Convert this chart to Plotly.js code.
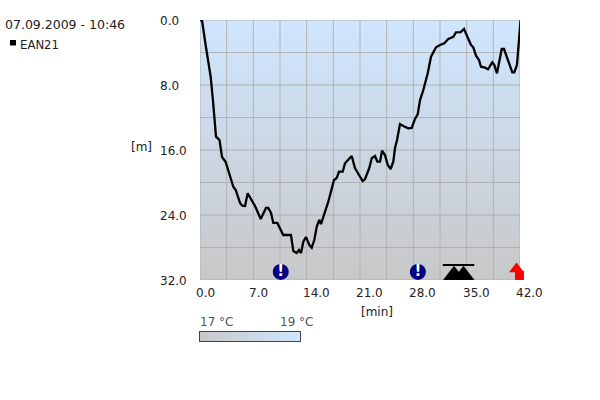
<!DOCTYPE html>
<html>
<head>
<meta charset="utf-8">
<script src="https://cdn.plot.ly/plotly-3.0.1.min.js"></script>
<style>html,body{margin:0;padding:0;background:#fff}#c{width:600px;height:400px}</style>
</head>
<body>
<div id="c"></div>
<script>
const diveDate = '07.09.2009 - 10:46';
const seriesName = 'EAN21';
const timeMin = [0,0.26,0.72,1.40,1.71,2.10,2.56,2.89,3.37,3.94,4.37,4.69,5.25,5.55,5.91,6.26,6.79,7.22,7.97,8.66,8.96,9.32,9.62,10.15,10.93,11.94,12.25,12.69,12.99,13.26,13.56,13.91,14.35,14.66,15.0,15.32,15.66,15.88,16.84,17.59,17.94,18.24,18.73,19.03,19.91,20.34,20.87,21.35,21.66,22.22,22.54,22.97,23.27,23.63,23.89,24.28,24.64,25.03,25.37,25.59,25.86,26.25,26.68,27.34,27.79,28.22,28.57,28.88,29.31,29.89,30.32,30.98,31.5,32.06,32.59,33.25,33.6,34.22,34.65,35.14,35.57,35.87,36.23,36.62,36.88,37.41,37.8,38.36,38.63,38.98,39.6,39.9,40.33,40.99,41.25,41.6,42.08];
const depthM = [0,0,2.95,6.98,10.0,14.36,14.77,16.86,17.48,19.08,20.52,20.92,22.52,22.86,22.89,21.33,22.28,22.89,24.49,23.14,23.14,23.75,24.98,24.98,26.46,26.46,28.43,28.68,28.31,28.68,27.29,26.71,27.69,28.02,27.08,25.44,24.62,25.11,22.36,19.69,19.45,18.67,18.67,17.64,16.74,18.22,19.08,19.82,19.57,18.22,17.02,16.74,17.44,17.44,16.09,16.62,17.85,18.34,17.44,15.79,14.77,12.8,13.05,13.33,13.29,12.18,11.61,9.85,8.62,6.56,4.52,3.36,3.08,2.87,2.34,2.06,1.51,1.48,1.11,2.25,3.08,3.36,4.39,4.92,5.75,5.87,6.07,5.21,5.54,6.56,3.57,3.57,4.71,6.44,6.44,5.54,0];

const xGrid = [0,3.5,7,10.5,14,17.5,21,24.5,28,31.5,35,38.5,42];
const yGrid = [0,4,8,12,16,20,24,28,32];
const xTickVals = [0,7,14,21,28,35,42];
const xTickText = ['0.0','7.0','14.0','21.0','28.0','35.0','42.0'];
const yTickVals = [0,8,16,24,32];
const yTickText = ['0.0','8.0','16.0','24.0','32.0'];

const tempDepths = [0,8,16,24,32];
const tempValues = [19,18.5,18,17.5,17];
const scaleTemps = [17,17.5,18,18.5,19];
const tempLabels = ['17 °C','19 °C'];

const warnX = [10.6,28.6], warnY = [31,31];
const decoX = [33.34,34.58], decoY = [31.42,31.42];
const decoBarX = [33.93], decoBarY = [30.15];
const ascentX = [41.54], ascentY = [30.65];
const ascentStemX = [41.93], ascentStemY = [31.45];
const ascentHatchX = [42.1,42.1], ascentHatchY = [31.15,31.7];

const W=600,H=400,L=200,T=20,PW=320,PH=321;
const mainBottom=(341-280)/PH;
const barTop=9.5/PH, barRight=100/PW;
const px=x=>(x-L)/PW, py=y=>(T+PH-y)/PH;
const colorscale=[[0,'#c8c8c8'],[1,'#cfe6ff']];
const gridColor='#b2b2b2', textColor='#222';
const gx=[],gy=[];
xGrid.forEach(v=>{gx.push(v,v,null);gy.push(0,32,null);});
yGrid.forEach(v=>{gx.push(0,42,null);gy.push(v,v,null);});

const font={family:'"DejaVu Sans",sans-serif',size:12,color:textColor};
const ann=(text,x,y,extra)=>Object.assign({text,x,y,xref:'paper',yref:'paper',xanchor:'left',yanchor:'middle',showarrow:false,font,borderpad:0,xshift:-1,yshift:-1},extra||{});

const annotations=[
  ann(diveDate,px(5),py(23),{font:{family:font.family,size:12.5,color:textColor}}),
  ann(seriesName,px(20),py(44),{font:{family:font.family,size:11.7,color:textColor}}),
  ann('[m]',px(131),py(146)),
  ann('[min]',px(361),py(311)),
  ann(tempLabels[0],px(200),py(321),{font:{family:font.family,size:12,color:'#555'}}),
  ann(tempLabels[1],px(280),py(321),{font:{family:font.family,size:12,color:'#555'}})
];
xTickVals.forEach((v,i)=>annotations.push(ann(xTickText[i],v,py(291.5),{xref:'x',xshift:-5})));
yTickVals.forEach((v,i)=>annotations.push(ann(yTickText[i],px(160),v,{yref:'y'})));

const data=[
 {type:'heatmap',x:[0,42],y:tempDepths,z:tempValues.map(t=>[t,t]),zmin:17,zmax:19,zsmooth:'best',colorscale,showscale:false,hoverinfo:'skip'},
 {type:'heatmap',xaxis:'x2',yaxis:'y2',x:scaleTemps,y:[0,1],z:[scaleTemps,scaleTemps],zmin:17,zmax:19,zsmooth:'best',colorscale,showscale:false,hoverinfo:'skip'},
 {type:'scatter',mode:'lines',x:gx,y:gy,line:{color:gridColor,width:1},cliponaxis:false,hoverinfo:'skip'},
 {type:'scatter',mode:'lines',name:seriesName,x:timeMin,y:depthM,line:{color:'#000',width:2.3},cliponaxis:false},
 {type:'scatter',mode:'markers+text',x:warnX,y:warnY,text:warnX.map(()=>'!'),textposition:'middle center',
  textfont:{family:'"DejaVu Sans",sans-serif',size:15,color:'#fff',weight:700},marker:{symbol:'circle',size:16,color:'#000080'},cliponaxis:false},
 {type:'scatter',mode:'markers',x:decoX,y:decoY,marker:{symbol:'triangle-up',size:19,color:'#000'},cliponaxis:false},
 {type:'scatter',mode:'markers',x:decoBarX,y:decoBarY,marker:{symbol:'line-ew',size:22.5,line:{width:2,color:'#000'}},cliponaxis:false},
 {type:'scatter',mode:'markers',x:ascentStemX,y:ascentStemY,marker:{symbol:'square',size:9,color:'#ff0000'},cliponaxis:false},
 {type:'scatter',mode:'markers',x:ascentHatchX,y:ascentHatchY,marker:{symbol:'line-ne',size:6,line:{width:1.5,color:'#fff'}},cliponaxis:false},
 {type:'scatter',mode:'markers',x:ascentX,y:ascentY,marker:{symbol:'triangle-up',size:13,color:'#ff0000'},cliponaxis:false}
];

const layout={
 width:W,height:H,showlegend:false,hovermode:false,
 margin:{l:L,t:T,r:W-L-PW,b:H-T-PH,pad:0},
 paper_bgcolor:'#fff',plot_bgcolor:'#fff',font,
 xaxis:{domain:[0,1],anchor:'y',range:[0,42],showgrid:false,zeroline:false,showticklabels:false,ticks:''},
 yaxis:{domain:[mainBottom,1],anchor:'x',range:[32,0],showgrid:false,zeroline:false,showticklabels:false,ticks:''},
 xaxis2:{domain:[0,barRight],anchor:'y2',range:[17,19],showgrid:false,zeroline:false,showticklabels:false,ticks:'',showline:true,mirror:true,linecolor:'#444',linewidth:1},
 yaxis2:{domain:[0,barTop],anchor:'x2',range:[0,1],showgrid:false,zeroline:false,showticklabels:false,ticks:'',showline:true,mirror:true,linecolor:'#444',linewidth:1},
 annotations,
 shapes:[{type:'rect',xref:'paper',yref:'paper',x0:px(10),x1:px(16),y0:py(45.5),y1:py(40),fillcolor:'#000',line:{width:0}}]
};
Plotly.newPlot('c',data,layout,{displayModeBar:false,staticPlot:true});
</script>
</body>
</html>
